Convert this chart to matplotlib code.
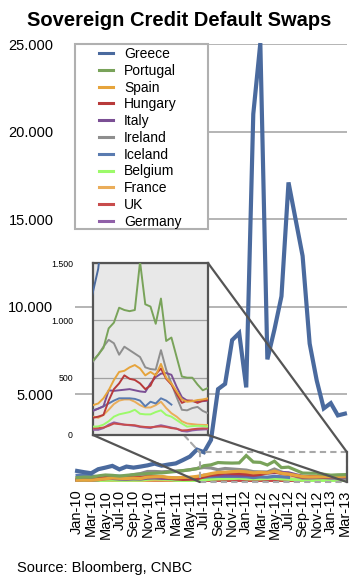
import numpy as np
import matplotlib
matplotlib.use("Agg")
import matplotlib.pyplot as plt
from matplotlib.patches import Rectangle, ConnectionPatch

plt.rcParams['font.family'] = ['Liberation Sans', 'DejaVu Sans']

months = ["Jan-10", "Feb-10", "Mar-10", "Apr-10", "May-10", "Jun-10", "Jul-10", "Aug-10", "Sep-10",
          "Oct-10", "Nov-10", "Dec-10", "Jan-11", "Feb-11", "Mar-11", "Apr-11", "May-11", "Jun-11",
          "Jul-11", "Aug-11", "Sep-11", "Oct-11", "Nov-11", "Dec-11", "Jan-12", "Feb-12", "Mar-12",
          "Apr-12", "May-12", "Jun-12", "Jul-12", "Aug-12", "Sep-12", "Oct-12", "Nov-12", "Dec-12",
          "Jan-13", "Feb-13", "Mar-13"]

greece = [630, 560, 500, 730, 820, 920, 720, 880, 820, 880, 950, 1050, 930, 1000, 1060,
          1250, 1450, 1850, 1700, 2400, 5300, 5600, 8100, 8500, 5400, 21000, 25050, 7000, 8700,
          10600, 17100, 15000, 12900, 7900, 5800, 4200, 4500, 3800, 3900]
portugal = [250, 280, 270, 350, 400, 380, 340, 380, 420, 450, 480, 500, 520, 560, 600,
            650, 700, 760, 930, 980, 1110, 1090, 1080, 1090, 1510, 1140, 1120, 970, 1190,
            820, 850, 680, 510, 500, 500, 440, 390, 410, 420]
spain = [100, 110, 100, 140, 180, 230, 210, 200, 220, 200, 280, 300, 310, 260, 240,
         260, 275, 320, 390, 480, 550, 560, 590, 610, 580, 520, 550, 520, 620,
         500, 450, 380, 310, 290, 295, 305, 310, 320, 330]
hungary = [180, 190, 170, 190, 260, 300, 280, 260, 280, 270, 300, 320, 300, 230, 180,
           150, 160, 175, 300, 400, 450, 520, 490, 480, 450, 400, 430, 530, 580,
           490, 440, 360, 280, 300, 300, 280, 300, 305, 300]
italy = [100, 120, 100, 130, 190, 200, 170, 160, 180, 170, 220, 230, 210, 200, 190,
         210, 230, 250, 390, 385, 390, 395, 400, 390, 380, 375, 450, 505, 535,
         540, 525, 420, 330, 300, 295, 290, 295, 300, 310]
ireland = [150, 160, 150, 180, 250, 280, 270, 330, 420, 480, 600, 600, 580, 600, 620,
           640, 700, 770, 830, 800, 700, 770, 740, 710, 680, 590, 575, 570, 740,
           570, 450, 330, 220, 215, 235, 245, 210, 190, 200]
iceland = [380, 400, 350, 300, 350, 340, 330, 300, 280, 270, 290, 280, 250, 240, 230,
           215, 230, 250, 275, 300, 320, 320, 320, 315, 300, 250, 290, 275, 320,
           300, 265, np.nan, np.nan, np.nan, np.nan, np.nan, np.nan, np.nan, np.nan]
belgium = [60, 70, 60, 70, 100, 120, 100, 100, 110, 110, 160, 190, 170, 160, 100,
           73, 75, 90, 120, 160, 180, 190, 200, 220, 185, 180, 180, 200, 215,
           175, 160, 130, 100, 73, 78, 80, 78, 73, 75]
france = [60, 70, 65, 75, 90, 95, 80, 80, 85, 80, 100, 110, 110, 100, 120,
          160, 150, 175, 220, 270, 300, 310, 310, 290, 260, 240, 240, 260, 290,
          235, 190, 160, 120, 100, 95, 90, 88, 87, 90]
uk = [80, 85, 75, 80, 90, 85, 75, 70, 70, 65, 70, 70, 65, 60, 58,
      58, 60, 65, 80, 100, 95, 90, 88, 85, 75, 70, 68, 72, 75,
      70, 60, 55, 40, 42, 50, 55, 57, 58, 55]
germany = [30, 35, 35, 40, 45, 45, 40, 35, 35, 35, 50, 55, 50, 45, 45,
           45, 45, 60, 90, 110, 100, 90, 85, 80, 70, 65, 60, 75, 85,
           75, 65, 55, 35, 30, 40, 45, 48, 50, 45]

countries = ["Greece", "Portugal", "Spain", "Hungary", "Italy", "Ireland", "Iceland",
             "Belgium", "France", "UK", "Germany"]
series = [greece, portugal, spain, hungary, italy, ireland, iceland, belgium, france, uk, germany]
colors = ["#4a6a9e", "#79a35a", "#e6a43c", "#b83a3a", "#7b4f94", "#8e8e8e", "#5a7bb0",
          "#9cfa6a", "#eaad5a", "#c84c4c", "#9060a8"]

W, H = 359, 586


def fx(px):
    return px / W


def fy(py):
    return 1 - py / H


def fmt(v):
    return f"{v:,.0f}".replace(",", ".")


x = np.arange(len(months))

fig = plt.figure(figsize=(W / 100, H / 100), dpi=100)
ax = fig.add_axes([fx(75), fy(482), 272 / W, 438 / H])

for i, (name, vals, c) in enumerate(zip(countries, series, colors)):
    lw = 3.0 if name == "Greece" else 2.3
    ax.plot(x, vals, color=c, lw=lw, label=name, zorder=20 - i,
            clip_on=(name != "Greece"), solid_joinstyle='miter')

xmin, xmax = -0.3, 38.3
ax.set_xlim(xmin, xmax)
ax.set_ylim(0, 25000)
yt = [5000, 10000, 15000, 20000, 25000]
ax.set_yticks(yt)
ax.set_yticklabels([fmt(v) for v in yt])
ax.set_xticks(x[::2])
ax.set_xticklabels(months[::2], rotation=90)
ax.tick_params(axis='y', length=0, pad=15.5, labelsize=10.5)
ax.tick_params(axis='x', length=0, pad=5.5, labelsize=10.5)
ax.yaxis.grid(True, color='#a8a8a8', lw=1.2)
ax.set_axisbelow(True)
for s in ax.spines.values():
    s.set_visible(False)

# zoom box in the main chart
box_x0, box_top = 17.4, 1700
ax.add_patch(Rectangle((box_x0, 0), xmax - box_x0, box_top, fill=False, ec='#a8a8a8',
                       lw=1.5, ls=(0, (3, 2)), clip_on=False, zorder=25))
ax.plot([xmax, xmax], [0, box_top], color='#555555', lw=1.6, clip_on=False, zorder=26)

# inset
axin = fig.add_axes([fx(93), fy(435), 115 / W, 172 / H], zorder=5)
axin.set_facecolor('#e8e8e8')
for i, (name, vals, c) in enumerate(zip(countries, series, colors)):
    axin.plot(x, vals, color=c, lw=1.4, zorder=20 - i)
axin.set_xlim(15, 37)
axin.set_ylim(0, 1500)
it = [0, 500, 1000, 1500]
axin.set_yticks(it)
axin.set_yticklabels([fmt(v) for v in it])
axin.set_xticks([])
axin.tick_params(axis='y', length=0, pad=14.5, labelsize=6.3)
axin.yaxis.grid(True, color='#a0a0a0', lw=0.9)
axin.set_axisbelow(True)
for s in axin.spines.values():
    s.set_color('#555555')
    s.set_linewidth(1.6)

for a, b in [((1, 1), (xmax, box_top)), ((1, 0), (xmax, 0)), ((0, 0), (box_x0, 0))]:
    cp = ConnectionPatch(xyA=a, coordsA=axin.transAxes, xyB=b, coordsB=ax.transData,
                         color='#555555', lw=1.6, zorder=3)
    fig.add_artist(cp)
cp = ConnectionPatch(xyA=(0.79, 0), coordsA=axin.transAxes, xyB=(box_x0, box_top),
                     coordsB=ax.transData, color='#a8a8a8', lw=1.5, ls=(0, (3, 2)), zorder=3)
fig.add_artist(cp)

# legend
fig.add_artist(Rectangle((fx(75), fy(229)), 133 / W, 185 / H, transform=fig.transFigure,
                         facecolor='white', edgecolor='#b0b0b0', lw=1.5, zorder=4))
h, l = ax.get_legend_handles_labels()
leg = fig.legend(h, l, loc='upper left', bbox_to_anchor=(fx(99), fy(47)),
                 bbox_transform=fig.transFigure, frameon=False, fontsize=10,
                 handlelength=1.0, handletextpad=0.8, labelspacing=0.2,
                 borderpad=0, borderaxespad=0)
leg.set_zorder(6)
for line in leg.get_lines():
    line.set_linewidth(2.2)

fig.text(0.5, fy(20), "Sovereign Credit Default Swaps", ha='center', va='center',
         fontsize=14.5, fontweight='bold')
fig.text(fx(17), fy(568), "Source: Bloomberg, CNBC", ha='left', va='center', fontsize=10.5)

fig.savefig("out.png", dpi=100)
